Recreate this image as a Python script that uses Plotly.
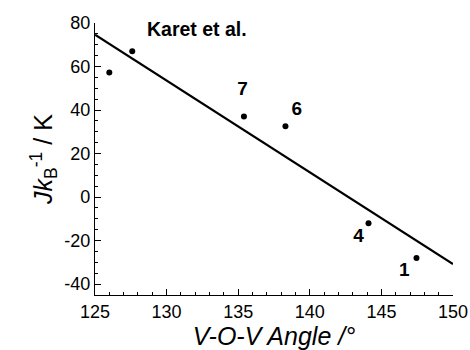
import plotly.graph_objects as go

# data
angle = [126.0, 127.6, 135.4, 138.3, 144.1, 147.45]
j_over_kb = [57.3, 67.0, 37.0, 32.5, -12.0, -28.0]

fit_angle = [125.0, 150.0]
fit_j = [74.6, -30.8]

label_text = ["7", "6", "4", "1"]
label_x = [135.3, 139.1, 143.4, 146.6]
label_y = [49.0, 40.1, -18.4, -34.2]

x_ticks = [125, 130, 135, 140, 145, 150]
y_ticks = [-40, -20, 0, 20, 40, 60, 80]

FONT = "Liberation Sans, Arial, Helvetica, sans-serif"

fig = go.Figure()
fig.add_trace(go.Scatter(x=fit_angle, y=fit_j, mode="lines",
                         line=dict(color="black", width=2.2), hoverinfo="skip"))
fig.add_trace(go.Scatter(x=angle, y=j_over_kb, mode="markers",
                         marker=dict(color="black", size=6)))
fig.add_trace(go.Scatter(x=label_x, y=label_y, mode="text", text=[f"<b>{t}</b>" for t in label_text],
                         textfont=dict(family=FONT, size=19, color="black")))

fig.add_annotation(x=132.1, y=77.2, text="<b>Karet et al.</b>", showarrow=False,
                   font=dict(family=FONT, size=19.5, color="black"))

fig.update_layout(
    width=470, height=350,
    margin=dict(l=95, r=17, t=23, b=55),
    paper_bgcolor="white", plot_bgcolor="white",
    showlegend=False,
    font=dict(family=FONT, color="black"),
    xaxis=dict(range=[125, 150], tickvals=x_ticks, ticktext=[str(v) for v in x_ticks],
               showgrid=False, zeroline=False, automargin=False,
               showline=True, linecolor="black", linewidth=1.2,
               ticks="inside", ticklen=6, tickwidth=1, tickcolor="black",
               minor=dict(dtick=1, tick0=125, ticks="inside", ticklen=3, tickcolor="black", showgrid=False),
               tickfont=dict(size=18, family=FONT),
               title=dict(text="<i>V-O-V Angle /°</i>", font=dict(size=25, family=FONT), standoff=4)),
    yaxis=dict(range=[-45, 80], tickvals=y_ticks, ticktext=[str(v) for v in y_ticks],
               showgrid=False, zeroline=False, automargin=False,
               showline=True, linecolor="black", linewidth=1.2,
               ticks="inside", ticklen=6, tickwidth=1, tickcolor="black",
               minor=dict(dtick=5, tick0=0, ticks="inside", ticklen=3, tickcolor="black", showgrid=False),
               tickfont=dict(size=18, family=FONT),
               title=dict(text="<i>Jk</i><sub>B</sub><sup>-1</sup> / K", font=dict(size=25, family=FONT), standoff=4)),
)

fig.write_html("out.html")
